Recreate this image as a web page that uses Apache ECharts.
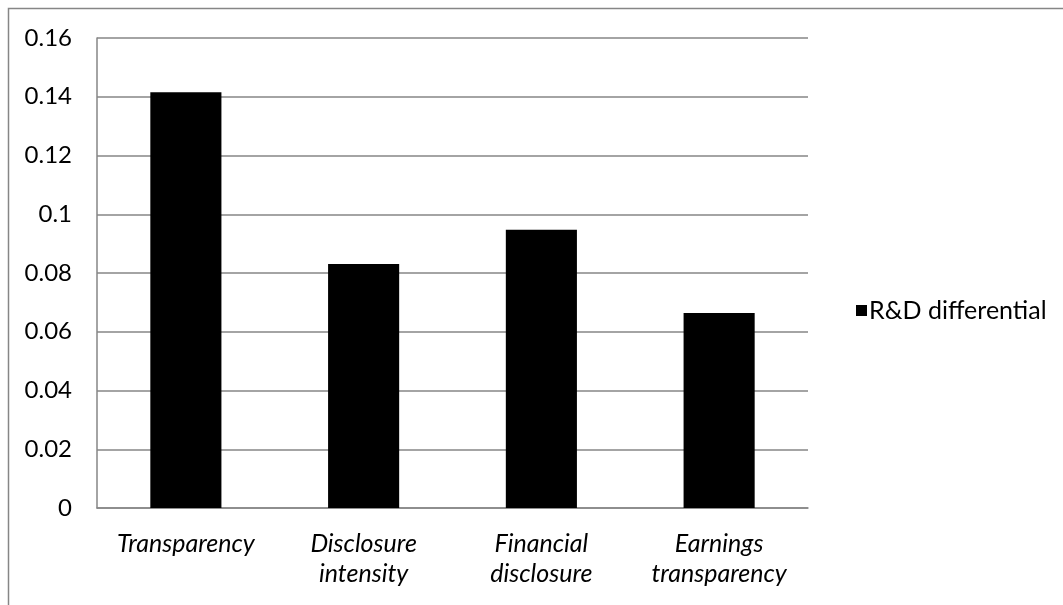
<!DOCTYPE html>
<html>
<head>
<meta charset="utf-8">
<script src="https://cdn.jsdelivr.net/npm/echarts@6/dist/echarts.min.js"></script>
<style>
  html, body { margin: 0; padding: 0; background: #fff; }
  #chart { width: 1063px; height: 605px; }
</style>
</head>
<body>
<div id="chart"></div>
<script>
const categories = ['Transparency', 'Disclosure\nintensity', 'Financial\ndisclosure', 'Earnings\ntransparency']
const rdDifferential = [0.1415, 0.0831, 0.0947, 0.0664]
const seriesName = 'R&D differential'

const fontFamily = 'Lato, "Open Sans", sans-serif'
const gray = '#868686'

const chart = echarts.init(document.getElementById('chart'))
chart.setOption({
  animation: false,
  textStyle: { fontFamily: fontFamily },
  graphic: [{
    type: 'rect',
    shape: { x: 8.5, y: 8.5, width: 2000, height: 2000 },
    style: { fill: 'none', stroke: gray, lineWidth: 1.5 },
    silent: true,
  }],
  legend: {
    data: [seriesName],
    left: 851,
    top: 293,
    itemWidth: 11,
    itemHeight: 11,
    itemGap: 4,
    icon: 'rect',
    textStyle: { fontSize: 25, color: '#000', fontFamily: fontFamily, padding: [0, 0, 0, -3] },
  },
  grid: {
    left: 97,
    top: 38,
    width: 711,
    height: 470,
    containLabel: false,
  },
  xAxis: {
    type: 'category',
    data: categories,
    axisLine: { show: true, lineStyle: { color: gray, width: 1.5 } },
    axisTick: { show: false },
    axisLabel: {
      interval: 0,
      margin: 21,
      fontSize: 25,
      lineHeight: 30,
      fontStyle: 'italic',
      color: '#000',
      align: 'center',
    },
  },
  yAxis: {
    type: 'value',
    min: 0,
    max: 0.16,
    interval: 0.02,
    axisLine: { show: true, lineStyle: { color: gray, width: 1.5 } },
    axisTick: { show: false },
    splitLine: { show: true, lineStyle: { color: gray, width: 1.5 } },
    axisLabel: {
      margin: 25,
      fontSize: 24,
      color: '#000',
      formatter: v => (v === 0 ? '0' : String(+v.toFixed(2))),
    },
  },
  series: [{
    name: seriesName,
    type: 'bar',
    data: rdDifferential,
    barCategoryGap: '60%',
    itemStyle: { color: '#000' },
  }],
})
</script>
</body>
</html>
